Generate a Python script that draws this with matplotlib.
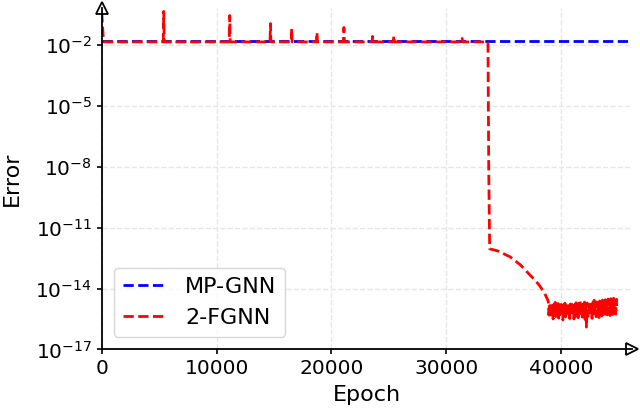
import matplotlib
matplotlib.use("Agg")
import matplotlib.pyplot as plt
import numpy as np

# MP-GNN: flat error over the whole run
mp_epochs = [0, 46200]
mp_log_err = [-1.84, -1.84]

# 2-FGNN: plateau with spikes, sudden drop, slow decay, noisy floor
fg_start_epoch = 0
fg_start_log = -0.40
fg_base_log = -1.87
spike_epochs = [5400, 11150, 14700, 16550, 18750, 21100, 23600, 25450, 31400]
spike_peaks = [-0.37, -0.57, -0.97, -1.21, -1.40, -1.16, -1.60, -1.56, -1.70]
drop_epochs = [33650, 33720, 33800]
drop_log = [-1.87, -8.3, -12.05]
decay_epochs = [34500, 35600, 36500, 37300, 37800, 38200, 38600]
decay_log = [-12.15, -12.45, -12.85, -13.33, -13.62, -13.90, -14.25]
floor_log = [
    -14.62, -15.31, -14.85, -15.42, -14.71, -15.18, -14.95, -15.50, -14.78, -15.25,
    -14.68, -15.38, -14.90, -15.12, -14.74, -15.46, -14.83, -15.29, -14.66, -15.35,
    -15.02, -15.55, -14.80, -15.21, -14.72, -15.40, -14.93, -15.15, -14.69, -15.33,
    -14.87, -15.48, -14.76, -15.27, -14.64, -15.19, -14.98, -15.50, -14.81, -15.36,
    -14.70, -15.24, -14.89, -15.44, -14.73, -15.30, -14.60, -15.17, -14.95, -15.41,
    -14.77, -15.28, -14.67, -15.52, -14.84, -15.90, -14.71, -15.37, -14.92, -15.14,
    -14.63, -15.34, -14.79, -15.47, -14.70, -15.26, -14.58, -15.20, -14.86, -15.39,
    -14.66, -15.31, -14.75, -15.43, -14.61, -15.16, -14.82, -15.35, -14.57, -15.25,
    -14.69, -15.40, -14.55, -15.22, -14.78, -15.30, -14.52, -15.18, -14.64, -15.33,
    -14.50, -15.12, -14.71, -15.28, -14.48, -15.20, -14.60, -15.26, -14.53, -15.10,
]
floor_first, floor_last = 38900, 44900

xticks = [0, 10000, 20000, 30000, 40000]
yticks = [1e-17, 1e-14, 1e-11, 1e-8, 1e-5, 1e-2]

# build the 2-FGNN series from the read values
fg_x = [fg_start_epoch, 150]
fg_y = [fg_start_log, fg_base_log]
for e, p in zip(spike_epochs, spike_peaks):
    fg_x += [e - 40, e, e + 40]
    fg_y += [fg_base_log, p, fg_base_log]
fg_x += drop_epochs + decay_epochs
fg_y += drop_log + decay_log
fg_x += list(np.linspace(floor_first, floor_last, len(floor_log)))
fg_y += floor_log
fg_x = np.array(fg_x)
fg_y = 10.0 ** np.array(fg_y)

fig = plt.figure(figsize=(6.4, 4.09), dpi=100)
ax = fig.add_axes([0.159, 0.1455, 0.8285, 0.835])

ax.plot(mp_epochs, 10.0 ** np.array(mp_log_err), "--", color="blue", lw=2, label="MP-GNN")
ax.plot(fg_x, fg_y, "--", color="red", lw=2, label="2-FGNN")

ax.set_yscale("log")
ax.set_xlim(0, 46200)
ax.set_ylim(1e-17, 10 ** -0.2)
ax.set_xticks(xticks)
ax.set_yticks(yticks)
ax.yaxis.set_minor_locator(matplotlib.ticker.NullLocator())
ax.tick_params(labelsize=14.5, width=1.2)
ax.grid(True, ls="--", color="#e6e6e6", lw=1)

for s in ["top", "right"]:
    ax.spines[s].set_visible(False)
for s in ["left", "bottom"]:
    ax.spines[s].set_linewidth(1.3)
ax.plot(1, 0, marker=">", ms=8, mfc="white", mec="k", mew=1.3,
        transform=ax.transAxes, clip_on=False)
ax.plot(0, 1, marker="^", ms=8, mfc="white", mec="k", mew=1.3,
        transform=ax.transAxes, clip_on=False)

ax.set_xlabel("Epoch", fontsize=16, labelpad=5)
ax.set_ylabel("Error", fontsize=16, labelpad=10)
ax.legend(loc="lower left", fontsize=16, bbox_to_anchor=(0.023, 0.037),
          borderaxespad=0)

fig.savefig("out.png", dpi=100)
